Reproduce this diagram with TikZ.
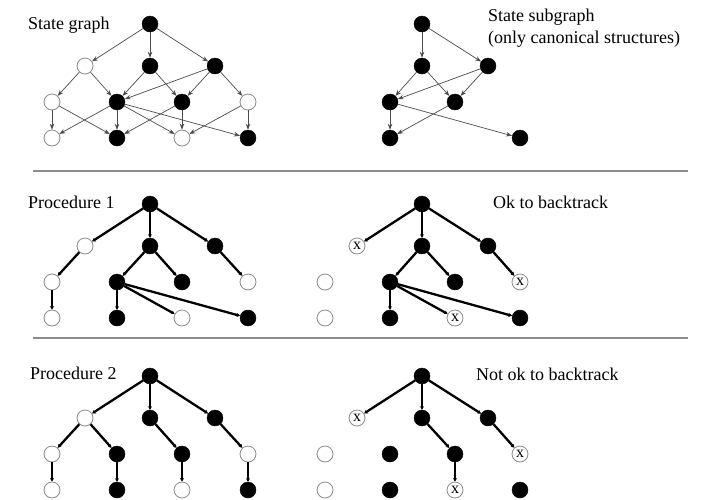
\documentclass[tikz,border=0pt]{standalone}
\usepackage{fontspec}
\setmainfont{Liberation Serif}
\usetikzlibrary{arrows.meta}

\begin{document}
\begin{tikzpicture}[
    x=1pt, y=-1pt,
    % State styles
    state/.style={circle, minimum size=16pt, inner sep=0pt},
    filled/.style={state, draw=black, fill=black},
    hollow/.style={state, draw=black!45, fill=white, line width=0.8pt},
    crossed/.style={hollow, font=\fontsize{16}{16}\selectfont},
    title/.style={anchor=base west, inner sep=0pt, align=left, font=\fontsize{18}{22}\selectfont},
    % Edge styles
    link/.style={-{Stealth[length=6pt,width=4.5pt]}, draw=black!70, line width=0.7pt},
    move/.style={-{Stealth[length=3.5pt,width=4pt]}, line width=2.3pt},
    rule/.style={draw=black!45, line width=1.3pt}
]
    \useasboundingbox (0,0) rectangle (705,499);

    % --- TITLES ---
    \node[title] (tg) at (28,29) {State graph};
    \node[title] (th) at (488,43) {State subgraph\\(only canonical structures)};
    \node[title] (tp) at (28,208) {Procedure 1};
    \node[title] (tq) at (493,208) {Ok to backtrack};
    \node[title] (tr) at (30,379) {Procedure 2};
    \node[title] (tt) at (476,380) {Not ok to backtrack};

    % --- RULES ---
    \draw[rule] (33,171) -- (688,171);
    \draw[rule] (33,338) -- (688,338);

    % --- STATE GRAPH ---
    \node[filled] (g0) at (150,24) {};
    \node[hollow] (g1) at (85,66) {};
    \node[filled] (g2) at (150,66) {};
    \node[filled] (g3) at (215,66) {};
    \node[hollow] (g4) at (52,102) {};
    \node[filled] (g5) at (117,102) {};
    \node[filled] (g6) at (182,102) {};
    \node[hollow] (g7) at (248,102) {};
    \node[hollow] (g8) at (52,138) {};
    \node[filled] (g9) at (117,138) {};
    \node[hollow] (g10) at (182,138) {};
    \node[filled] (g11) at (248,138) {};

    \draw[link] (g0) -- (g1);
    \draw[link] (g0) -- (g2);
    \draw[link] (g0) -- (g3);
    \draw[link] (g1) -- (g4);
    \draw[link] (g1) -- (g5);
    \draw[link] (g2) -- (g5);
    \draw[link] (g2) -- (g6);
    \draw[link] (g3) -- (g5);
    \draw[link] (g3) -- (g6);
    \draw[link] (g3) -- (g7);
    \draw[link] (g4) -- (g8);
    \draw[link] (g4) -- (g9);
    \draw[link] (g5) -- (g8);
    \draw[link] (g5) -- (g9);
    \draw[link] (g5) -- (g10);
    \draw[link] (g5) -- (g11);
    \draw[link] (g6) -- (g9);
    \draw[link] (g6) -- (g10);
    \draw[link] (g7) -- (g10);
    \draw[link] (g7) -- (g11);

    % --- STATE SUBGRAPH ---
    \node[filled] (h0) at (422,24) {};
    \node[filled] (h2) at (422,66) {};
    \node[filled] (h3) at (488,66) {};
    \node[filled] (h5) at (390,102) {};
    \node[filled] (h6) at (455,102) {};
    \node[filled] (h9) at (390,138) {};
    \node[filled] (h11) at (520,138) {};

    \draw[link] (h0) -- (h2);
    \draw[link] (h0) -- (h3);
    \draw[link] (h2) -- (h5);
    \draw[link] (h2) -- (h6);
    \draw[link] (h3) -- (h5);
    \draw[link] (h3) -- (h6);
    \draw[link] (h5) -- (h9);
    \draw[link] (h5) -- (h11);
    \draw[link] (h6) -- (h9);

    % --- PROCEDURE 1 ---
    \node[filled] (p0) at (150,204) {};
    \node[hollow] (p1) at (85,246) {};
    \node[filled] (p2) at (150,246) {};
    \node[filled] (p3) at (215,246) {};
    \node[hollow] (p4) at (52,282) {};
    \node[filled] (p5) at (117,282) {};
    \node[filled] (p6) at (182,282) {};
    \node[hollow] (p7) at (248,282) {};
    \node[hollow] (p8) at (52,318) {};
    \node[filled] (p9) at (117,318) {};
    \node[hollow] (p10) at (182,318) {};
    \node[filled] (p11) at (248,318) {};

    \draw[move] (p0) -- (p1);
    \draw[move] (p0) -- (p2);
    \draw[move] (p0) -- (p3);
    \draw[move] (p1) -- (p4);
    \draw[move] (p2) -- (p5);
    \draw[move] (p2) -- (p6);
    \draw[move] (p3) -- (p7);
    \draw[move] (p4) -- (p8);
    \draw[move] (p5) -- (p9);
    \draw[move] (p5) -- (p10);
    \draw[move] (p5) -- (p11);

    % Ok to backtrack
    \node[filled] (q0) at (422,204) {};
    \node[crossed] (q1) at (357,246) {x};
    \node[filled] (q2) at (422,246) {};
    \node[filled] (q3) at (488,246) {};
    \node[hollow] (q4) at (325,282) {};
    \node[filled] (q5) at (390,282) {};
    \node[filled] (q6) at (455,282) {};
    \node[crossed] (q7) at (520,282) {x};
    \node[hollow] (q8) at (325,318) {};
    \node[filled] (q9) at (390,318) {};
    \node[crossed] (q10) at (455,318) {x};
    \node[filled] (q11) at (520,318) {};

    \draw[move] (q0) -- (q1);
    \draw[move] (q0) -- (q2);
    \draw[move] (q0) -- (q3);
    \draw[move] (q2) -- (q5);
    \draw[move] (q2) -- (q6);
    \draw[move] (q3) -- (q7);
    \draw[move] (q5) -- (q9);
    \draw[move] (q5) -- (q10);
    \draw[move] (q5) -- (q11);

    % --- PROCEDURE 2 ---
    \node[filled] (r0) at (150,376) {};
    \node[hollow] (r1) at (85,418) {};
    \node[filled] (r2) at (150,418) {};
    \node[filled] (r3) at (215,418) {};
    \node[hollow] (r4) at (52,454) {};
    \node[filled] (r5) at (117,454) {};
    \node[filled] (r6) at (182,454) {};
    \node[hollow] (r7) at (248,454) {};
    \node[hollow] (r8) at (52,490) {};
    \node[filled] (r9) at (117,490) {};
    \node[hollow] (r10) at (182,490) {};
    \node[filled] (r11) at (248,490) {};

    \draw[move] (r0) -- (r1);
    \draw[move] (r0) -- (r2);
    \draw[move] (r0) -- (r3);
    \draw[move] (r1) -- (r4);
    \draw[move] (r1) -- (r5);
    \draw[move] (r2) -- (r6);
    \draw[move] (r3) -- (r7);
    \draw[move] (r4) -- (r8);
    \draw[move] (r5) -- (r9);
    \draw[move] (r6) -- (r10);
    \draw[move] (r7) -- (r11);

    % Not ok to backtrack
    \node[filled] (t0) at (422,376) {};
    \node[crossed] (t1) at (357,418) {x};
    \node[filled] (t2) at (422,418) {};
    \node[filled] (t3) at (488,418) {};
    \node[hollow] (t4) at (325,454) {};
    \node[filled] (t5) at (390,454) {};
    \node[filled] (t6) at (455,454) {};
    \node[crossed] (t7) at (520,454) {x};
    \node[hollow] (t8) at (325,490) {};
    \node[filled] (t9) at (390,490) {};
    \node[crossed] (t10) at (455,490) {x};
    \node[filled] (t11) at (520,490) {};

    \draw[move] (t0) -- (t1);
    \draw[move] (t0) -- (t2);
    \draw[move] (t0) -- (t3);
    \draw[move] (t2) -- (t6);
    \draw[move] (t3) -- (t7);
    \draw[move] (t6) -- (t10);

\end{tikzpicture}
\end{document}
